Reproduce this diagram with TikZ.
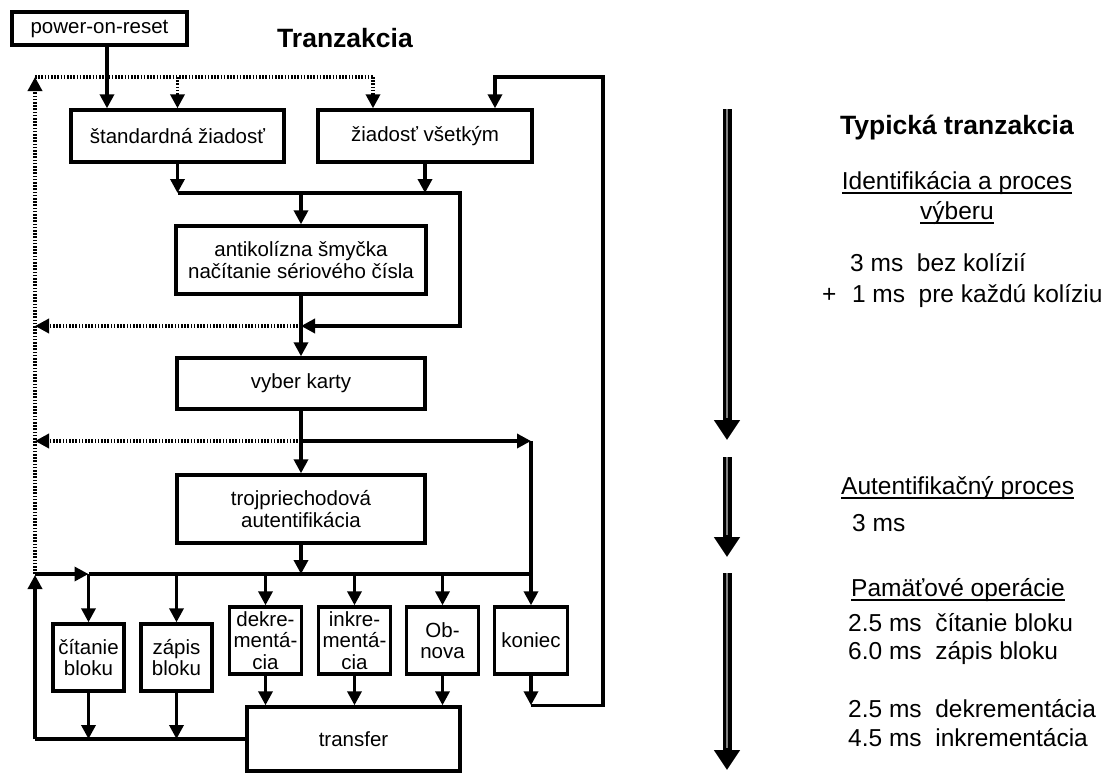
\documentclass[tikz,border=0pt]{standalone}
\usepackage{fontspec}
\setmainfont{Liberation Sans}
\usetikzlibrary{arrows.meta}
\newcommand{\myul}[1]{\setbox0\hbox{#1}\rlap{\rule[-4.5pt]{\wd0}{1.6pt}}\box0}
\begin{document}
\begin{tikzpicture}[x=1pt,y=-1pt,
  box/.style={draw, line width=3.4pt, inner sep=0pt, font=\fontsize{20.5}{21.5}\selectfont, align=center},
  conn/.style={line width=3.4pt},
  arr/.style={conn, -{Triangle[length=14pt,width=14pt]}},
  dots/.style={line width=3.4pt, dash pattern=on 1.6pt off 1.6pt},
  darr/.style={dots, -{Triangle[length=14pt,width=14pt]}},
  big/.style={line width=9pt, -{Triangle[length=20pt,width=25pt]}},
  bigc/.style={line width=2pt, black!50},
  rtext/.style={anchor=base west, inner sep=0pt, font=\fontsize{24.5}{28}\selectfont},
  rtitle/.style={anchor=base, inner sep=0pt, font=\fontsize{26.5}{30}\selectfont\bfseries},
]
\useasboundingbox (0,0) rectangle (1101,774);
\fill[white] (0,0) rectangle (1101,774);

% boxes
\node[box, minimum width=175pt, minimum height=33pt] (por) at (99.5,28.5) {power-on-reset};
\node[box, minimum width=213pt, minimum height=52pt] (std) at (177.5,136) {štandardná žiadosť};
\node[box, minimum width=214pt, minimum height=52pt] (all) at (425,136) {žiadosť všetkým};
\node[box, minimum width=250pt, minimum height=68pt] (anti) at (301,260) {antikolízna šmyčka\\načítanie sériového čísla};
\node[box, minimum width=248pt, minimum height=51pt] (vyber) at (301,383.5) {vyber karty};
\node[box, minimum width=248pt, minimum height=68pt] (troj) at (301,509) {trojpriechodová\\autentifikácia};
\node[box, minimum width=71pt, minimum height=67pt] (cit) at (88.5,657.5) {čítanie\\bloku};
\node[box, minimum width=71pt, minimum height=67pt] (zap) at (176.5,657.5) {zápis\\bloku};
\node[box, minimum width=72pt, minimum height=67pt] (dek) at (265.5,640.5) {dekre-\\mentá-\\cia};
\node[box, minimum width=72pt, minimum height=67pt] (ink) at (354.5,640.5) {inkre-\\mentá-\\cia};
\node[box, minimum width=72pt, minimum height=67pt] (obn) at (442.5,640.5) {Ob-\\nova};
\node[box, minimum width=73pt, minimum height=67pt] (kon) at (531,640.5) {koniec};
\node[box, minimum width=213pt, minimum height=64pt] (tra) at (353.5,739) {transfer};

% titles
\node[rtitle] (title) at (345,47.5) {Tranzakcia};
\node[rtitle] (title2) at (957,134.5) {Typická tranzakcia};

% helper coordinates
\coordinate (jTL) at (35,77);
\coordinate (jTR) at (603,77);
\coordinate (xp) at (107,0);
\coordinate (d2) at (373,77);
\coordinate (aT) at (495,77);
\coordinate (mL) at (177.5,193);
\coordinate (mR) at (460,193);
\coordinate (q) at (301,326);
\coordinate (r) at (301,441);
\coordinate (rr) at (531,441);
\coordinate (lb) at (35,574);

% top
\draw[arr] (por.south -| xp) -- (std.north -| xp);
\draw[dots] (jTL) -- (d2);
\draw[darr] (std.north |- jTL) -- (std.north);
\draw[darr] (d2) -- (d2 |- all.north);
\draw[darr] (lb) -- (jTL);

% loop from koniec back to 'ziadost vsetkym'
\draw[arr] (kon.south) -- (kon.south |- tra.north);
\draw[arr] (kon.south |- tra.north) -- (jTR |- tra.north) -- (jTR) -- (aT) -- (aT |- all.north);

% merge to anticollision
\draw[arr] (std.south) -- (mL);
\draw[arr] (all.south) -- (all.south |- mL);
\draw[arr] (mL) -- (mR) -- (mR |- q) -- (q);
\draw[arr] (anti.north |- mL) -- (anti.north);
\draw[arr] (anti.south) -- (vyber.north);
\draw[darr] (q) -- (q -| lb);

% select -> authentication
\draw[arr] (vyber.south) -- (troj.north);
\draw[darr] (r) -- (r -| lb);
\draw[arr] (r) -- (rr);
\draw[arr] (rr) -- (kon.north);

% distribution line
\draw[arr] (troj.south) -- (troj.south |- lb);
\draw[arr] (lb) -- (cit.north |- lb);
\draw[conn] (cit.north |- lb) -- (kon.north |- lb);
\foreach \n in {cit,zap,dek,ink,obn}
  \draw[arr] (\n.north |- lb) -- (\n.north);

% into transfer and back
\draw[arr] (cit.south) -- (cit.south |- tra.west);
\draw[arr] (zap.south) -- (zap.south |- tra.west);
\draw[conn] (tra.west) -- (tra.west -| lb);
\draw[arr] (tra.west -| lb) -- ([yshift=-1pt]lb);
\foreach \n in {dek,ink,obn}
  \draw[arr] (\n.south) -- (\n.south |- tra.north);

% right timeline arrows
\coordinate (b1s) at (727,109);
\coordinate (b1e) at (727,440);
\coordinate (b2s) at (727,457);
\coordinate (b2e) at (727,557);
\coordinate (b3s) at (727,573);
\coordinate (b3e) at (727,770);
\draw[big] (b1s) -- (b1e);
\draw[big] (b2s) -- (b2e);
\draw[big] (b3s) -- (b3e);
\draw[bigc] (b1s) -- ([yshift=22pt]b1e);
\draw[bigc] (b2s) -- ([yshift=22pt]b2e);
\draw[bigc] (b3s) -- ([yshift=22pt]b3e);

% right texts
\node[rtext, anchor=base] (s1) at (957,189) {\myul{Identifikácia a proces}};
\node[rtext, anchor=base] (s1b) at (957,219) {\myul{výberu}};
\node[rtext] (s1c) at (850,271) {3 ms\ \ bez kolízií};
\node[rtext] (s1d) at (822,302) {+\hspace{15.5pt}1 ms\ \ pre každú kolíziu};
\node[rtext] (s2) at (841,494) {\myul{Autentifikačný proces}};
\node[rtext] (s2b) at (852,531) {3 ms};
\node[rtext] (s3) at (851,596) {\myul{Pamäťové operácie}};
\node[rtext] (s3a) at (848,631) {2.5 ms\ \ čítanie bloku};
\node[rtext] (s3b) at (848,659) {6.0 ms\ \ zápis bloku};
\node[rtext] (s3c) at (848,717) {2.5 ms\ \ dekrementácia};
\node[rtext] (s3d) at (848,746) {4.5 ms\ \ inkrementácia};
\end{tikzpicture}
\end{document}
